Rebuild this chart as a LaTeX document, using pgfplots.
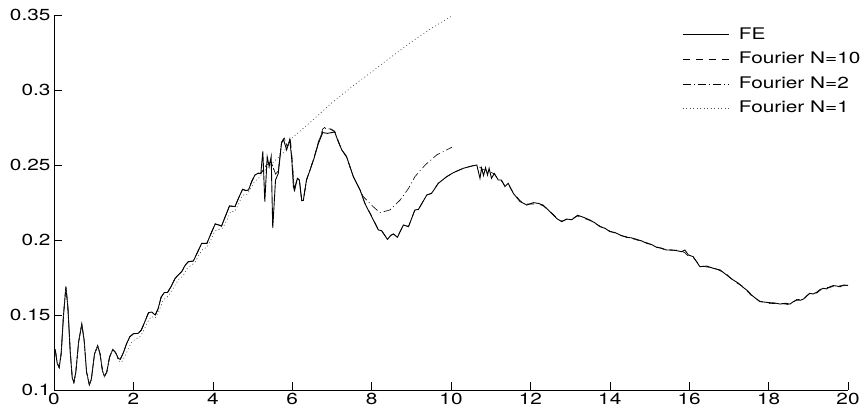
\documentclass[border=0pt]{standalone}
\usepackage{fontspec}
\setmainfont{TeX Gyre Heros}[FakeStretch=1.3]
\usepackage{pgfplots}
\pgfplotsset{compat=1.18}
\usepackage{pgfplotstable}

% FE solution
\pgfplotstableread{
x y
0.03 0.127
0.08 0.118
0.13 0.115
0.18 0.124
0.24 0.150
0.30 0.169
0.35 0.155
0.41 0.125
0.46 0.108
0.50 0.105
0.55 0.112
0.62 0.132
0.70 0.144
0.76 0.133
0.82 0.112
0.89 0.1035
0.94 0.107
1.02 0.124
1.10 0.1295
1.16 0.124
1.22 0.113
1.27 0.109
1.33 0.112
1.40 0.122
1.48 0.127
1.55 0.125
1.62 0.121
1.67 0.1205
1.75 0.125
1.83 0.131
1.91 0.1355
2.00 0.1375
2.12 0.1378
2.20 0.140
2.28 0.145
2.38 0.1515
2.46 0.152
2.55 0.150
2.62 0.154
2.70 0.162
2.78 0.165
2.86 0.165
2.95 0.169
3.05 0.1744
3.14 0.177
3.22 0.179
3.30 0.183
3.38 0.1855
3.51 0.186
3.60 0.191
3.72 0.1978
3.85 0.1977
3.95 0.204
4.06 0.2107
4.15 0.210
4.22 0.2093
4.32 0.216
4.42 0.2227
4.56 0.2223
4.65 0.228
4.75 0.2338
4.83 0.233
4.90 0.2333
4.98 0.239
5.06 0.2433
5.14 0.2445
5.21 0.2444
5.26 0.259
5.31 0.2256
5.37 0.2555
5.42 0.249
5.47 0.2555
5.51 0.208
5.58 0.240
5.65 0.2444
5.73 0.2644
5.78 0.2671
5.86 0.260
5.94 0.2671
5.99 0.2533
6.03 0.2356
6.06 0.233
6.13 0.2411
6.18 0.240
6.24 0.2262
6.28 0.2264
6.36 0.240
6.45 0.2467
6.55 0.2544
6.66 0.2644
6.77 0.2716
6.89 0.2711
6.99 0.2716
7.07 0.272
7.16 0.2656
7.25 0.260
7.37 0.2555
7.54 0.2422
7.71 0.2333
7.83 0.2244
8.00 0.2156
8.17 0.2067
8.25 0.2062
8.40 0.2004
8.48 0.2030
8.55 0.2040
8.65 0.2018
8.80 0.2100
8.93 0.2089
9.09 0.2200
9.18 0.2204
9.39 0.2300
9.51 0.2311
9.68 0.2378
9.89 0.2422
10.06 0.2449
10.31 0.2478
10.52 0.2493
10.65 0.2500
10.73 0.2411
10.77 0.2480
10.82 0.2429
10.87 0.2482
10.92 0.2433
10.96 0.2478
11.02 0.2411
11.09 0.2444
11.19 0.2400
11.27 0.2400
11.36 0.2356
11.44 0.2378
11.57 0.2311
11.74 0.2256
11.91 0.2233
12.08 0.2249
12.20 0.2244
12.32 0.2233
12.49 0.2189
12.66 0.2144
12.79 0.2122
12.91 0.2140
13.04 0.2135
13.19 0.2165
13.35 0.2150
13.50 0.2133
13.62 0.2115
13.75 0.2089
13.88 0.2078
14.00 0.2056
14.13 0.2050
14.26 0.2033
14.42 0.2018
14.55 0.2014
14.68 0.2004
14.80 0.1994
14.93 0.1978
15.05 0.1970
15.18 0.1951
15.30 0.1946
15.43 0.1933
15.55 0.1934
15.68 0.1929
15.81 0.1922
15.89 0.1933
15.98 0.1900
16.10 0.1889
16.27 0.1822
16.44 0.1826
16.61 0.1811
16.78 0.1800
16.94 0.1767
17.11 0.1733
17.24 0.1712
17.36 0.1684
17.47 0.1662
17.57 0.1633
17.68 0.1610
17.78 0.1589
17.90 0.1586
18.04 0.1582
18.16 0.1580
18.29 0.1573
18.42 0.1578
18.54 0.1573
18.63 0.1590
18.71 0.1600
18.80 0.1598
18.88 0.1607
18.96 0.1628
19.04 0.1644
19.12 0.1640
19.21 0.1651
19.30 0.1670
19.38 0.1678
19.46 0.1674
19.55 0.1689
19.63 0.1696
19.72 0.1693
19.80 0.1688
19.89 0.1700
20.00 0.1697
}\feData

% Fourier N=10
\pgfplotstableread{
x y
0.03 0.127
0.08 0.118
0.13 0.115
0.18 0.124
0.24 0.150
0.30 0.169
0.35 0.155
0.41 0.125
0.46 0.108
0.50 0.105
0.55 0.112
0.62 0.132
0.70 0.144
0.76 0.133
0.82 0.112
0.89 0.1035
0.94 0.107
1.02 0.124
1.10 0.1295
1.16 0.124
1.22 0.113
1.27 0.109
1.33 0.112
1.40 0.122
1.48 0.127
1.55 0.125
1.62 0.121
1.67 0.1205
1.75 0.125
1.83 0.131
1.91 0.1355
2.00 0.1375
2.12 0.1378
2.20 0.140
2.28 0.145
2.38 0.1515
2.46 0.152
2.55 0.150
2.62 0.154
2.70 0.162
2.78 0.165
2.86 0.165
2.95 0.169
3.05 0.1744
3.14 0.177
3.22 0.179
3.30 0.183
3.38 0.1855
3.51 0.186
3.60 0.191
3.72 0.1978
3.85 0.1977
3.95 0.204
4.06 0.2107
4.15 0.210
4.22 0.2093
4.32 0.216
4.42 0.2227
4.56 0.2223
4.65 0.228
4.75 0.2338
4.83 0.233
4.90 0.2333
4.98 0.239
5.06 0.2433
5.14 0.2445
5.21 0.2444
5.35 0.2500
5.47 0.2520
5.58 0.2440
5.65 0.2460
5.73 0.2650
5.80 0.2680
5.88 0.2620
5.95 0.2680
6.00 0.2530
6.05 0.2340
6.13 0.2411
6.18 0.2400
6.24 0.2262
6.28 0.2264
6.36 0.2400
6.45 0.2467
6.55 0.2550
6.66 0.2655
6.77 0.2740
6.85 0.2757
6.95 0.2745
7.07 0.2725
7.16 0.2660
7.25 0.2600
7.37 0.2555
7.54 0.2422
7.71 0.2333
7.83 0.2246
8.00 0.2160
8.17 0.2070
8.25 0.2064
8.40 0.2006
8.48 0.2032
8.55 0.2040
8.65 0.2020
8.80 0.2100
8.93 0.2090
9.09 0.2200
9.18 0.2205
9.39 0.2300
9.51 0.2311
9.68 0.2378
9.89 0.2422
10.06 0.2449
10.31 0.2478
10.52 0.2493
10.65 0.2500
10.80 0.2470
10.95 0.2460
11.09 0.2440
11.19 0.2405
11.27 0.2395
11.36 0.2360
11.44 0.2372
11.57 0.2315
11.74 0.2262
11.91 0.2240
12.08 0.2240
12.20 0.2240
12.32 0.2228
12.49 0.2192
12.66 0.2150
12.79 0.2126
12.91 0.2136
13.04 0.2140
13.19 0.2160
13.50 0.2130
13.75 0.2093
14.00 0.2060
14.26 0.2030
14.42 0.2022
14.68 0.2000
14.93 0.1982
15.18 0.1955
15.43 0.1930
15.68 0.1933
15.81 0.1926
15.89 0.1915
15.98 0.1890
16.10 0.1884
16.27 0.1830
16.44 0.1820
16.61 0.1815
16.78 0.1795
16.94 0.1772
17.11 0.1728
17.36 0.1688
17.57 0.1628
17.78 0.1592
18.04 0.1576
18.29 0.1578
18.54 0.1568
18.71 0.1604
18.88 0.1602
19.04 0.1648
19.21 0.1646
19.38 0.1682
19.55 0.1684
19.72 0.1697
19.89 0.1695
20.00 0.1700
}\nTenData

% Fourier N=2
\pgfplotstableread{
x y
0.03 0.127
0.08 0.118
0.13 0.115
0.18 0.124
0.24 0.150
0.30 0.169
0.35 0.155
0.41 0.125
0.46 0.108
0.50 0.105
0.55 0.112
0.62 0.132
0.70 0.144
0.76 0.133
0.82 0.112
0.89 0.1035
0.94 0.107
1.02 0.124
1.10 0.1295
1.16 0.124
1.22 0.113
1.27 0.109
1.33 0.112
1.40 0.122
1.48 0.127
1.55 0.125
1.62 0.121
1.67 0.1205
1.75 0.125
1.83 0.131
1.91 0.1355
2.00 0.1375
2.12 0.1378
2.20 0.140
2.28 0.145
2.38 0.1515
2.46 0.152
2.55 0.150
2.62 0.154
2.70 0.162
2.78 0.165
2.86 0.165
2.95 0.169
3.05 0.1744
3.14 0.177
3.22 0.179
3.30 0.183
3.38 0.1855
3.51 0.186
3.60 0.191
3.72 0.1978
3.85 0.1977
3.95 0.204
4.06 0.2107
4.15 0.210
4.22 0.2093
4.32 0.216
4.42 0.2227
4.56 0.2223
4.65 0.228
4.75 0.2338
4.83 0.233
4.90 0.2333
4.98 0.239
5.06 0.2433
5.14 0.2445
5.21 0.2444
5.35 0.2500
5.47 0.2520
5.58 0.2440
5.65 0.2460
5.73 0.2650
5.80 0.2680
5.88 0.2620
5.95 0.2680
6.00 0.2530
6.05 0.2340
6.13 0.2411
6.18 0.2400
6.24 0.2262
6.28 0.2264
6.36 0.2400
6.45 0.2467
6.55 0.2550
6.66 0.2650
6.77 0.2730
6.85 0.2745
6.95 0.2740
7.07 0.2722
7.16 0.2658
7.25 0.2600
7.37 0.2555
7.54 0.2422
7.71 0.2333
7.79 0.2289
8.04 0.2222
8.21 0.2182
8.46 0.2200
8.72 0.2267
8.93 0.2344
9.09 0.2422
9.35 0.2500
9.64 0.2567
10.02 0.2618
}\nTwoData

% Fourier N=1
\pgfplotstableread{
x y
0.03 0.127
0.08 0.118
0.13 0.115
0.18 0.124
0.24 0.150
0.30 0.169
0.35 0.155
0.41 0.125
0.46 0.108
0.50 0.105
0.55 0.112
0.62 0.132
0.70 0.144
0.76 0.133
0.82 0.112
0.89 0.1035
0.94 0.107
1.02 0.124
1.10 0.1295
1.16 0.124
1.22 0.113
1.27 0.109
1.33 0.112
1.40 0.122
1.48 0.127
1.55 0.125
1.62 0.1195
1.70 0.1185
1.78 0.122
1.86 0.127
1.95 0.1315
2.05 0.134
2.15 0.135
2.25 0.139
2.35 0.145
2.45 0.149
2.55 0.148
2.65 0.153
2.75 0.160
2.85 0.162
2.95 0.165
3.05 0.170
3.15 0.174
3.25 0.176
3.35 0.181
3.45 0.183
3.55 0.185
3.65 0.190
3.75 0.194
3.85 0.195
3.95 0.200
4.05 0.206
4.15 0.207
4.25 0.208
4.35 0.213
4.45 0.219
4.55 0.219
4.65 0.224
4.75 0.230
4.85 0.230
4.95 0.234
5.05 0.239
5.15 0.241
5.30 0.246
5.57 0.253
5.77 0.258
6.00 0.268
6.50 0.2795
7.00 0.2915
7.67 0.3056
8.00 0.3120
8.50 0.3222
9.00 0.3320
9.50 0.3410
10.02 0.3493
}\nOneData

\begin{document}
\begin{tikzpicture}[font=\fontsize{16}{19}\selectfont]
\path[use as bounding box] (-54pt,-27pt) rectangle (812pt,390pt);
\begin{axis}[
    at={(0,0)}, anchor=south west,
    scale only axis,
    width=794pt, height=375pt,
    xmin=0, xmax=20,
    ymin=0.1, ymax=0.35,
    xtick={0,2,...,20},
    ytick={0.1,0.15,0.2,0.25,0.3,0.35},
    scaled y ticks=false,
    axis x line=bottom, axis y line=left,
    axis line style={-, line width=0.6pt},
    tick align=inside,
    major tick length=8pt,
    tick style={line width=0.6pt, black},
    ticklabel style={font=\fontsize{16}{19}\selectfont},
    /pgf/number format/assume math mode=true,
    yticklabel style={/pgf/number format/fixed, /pgf/number format/precision=2},
    legend cell align=left,
    legend style={
        at={(axis description cs:0.791,0.967)}, anchor=north west,
        draw=none, fill=none, inner sep=0pt, outer sep=0pt,
        font=\fontsize{16}{19}\selectfont,
        nodes={text height=12pt, text depth=3pt, inner sep=0pt},
        row sep=9.5pt, column sep=10pt,
        legend image code/.code={\draw[#1] (0pt,0pt) -- (46pt,0pt);},
    },
]
\addplot[black, line width=0.9pt] table[x=x, y=y] {\feData};
\addlegendentry{FE}
\addplot[black, line width=0.6pt, dash pattern=on 7pt off 6pt] table[x=x, y=y] {\nTenData};
\addlegendentry{Fourier N=10}
\addplot[black, line width=0.6pt, dash pattern=on 8pt off 3pt on 1pt off 3pt] table[x=x, y=y] {\nTwoData};
\addlegendentry{Fourier N=2}
\addplot[black!70, line width=0.6pt, dash pattern=on 1pt off 2.5pt] table[x=x, y=y] {\nOneData};
\addlegendentry{Fourier N=1}
\end{axis}
\end{tikzpicture}
\end{document}
